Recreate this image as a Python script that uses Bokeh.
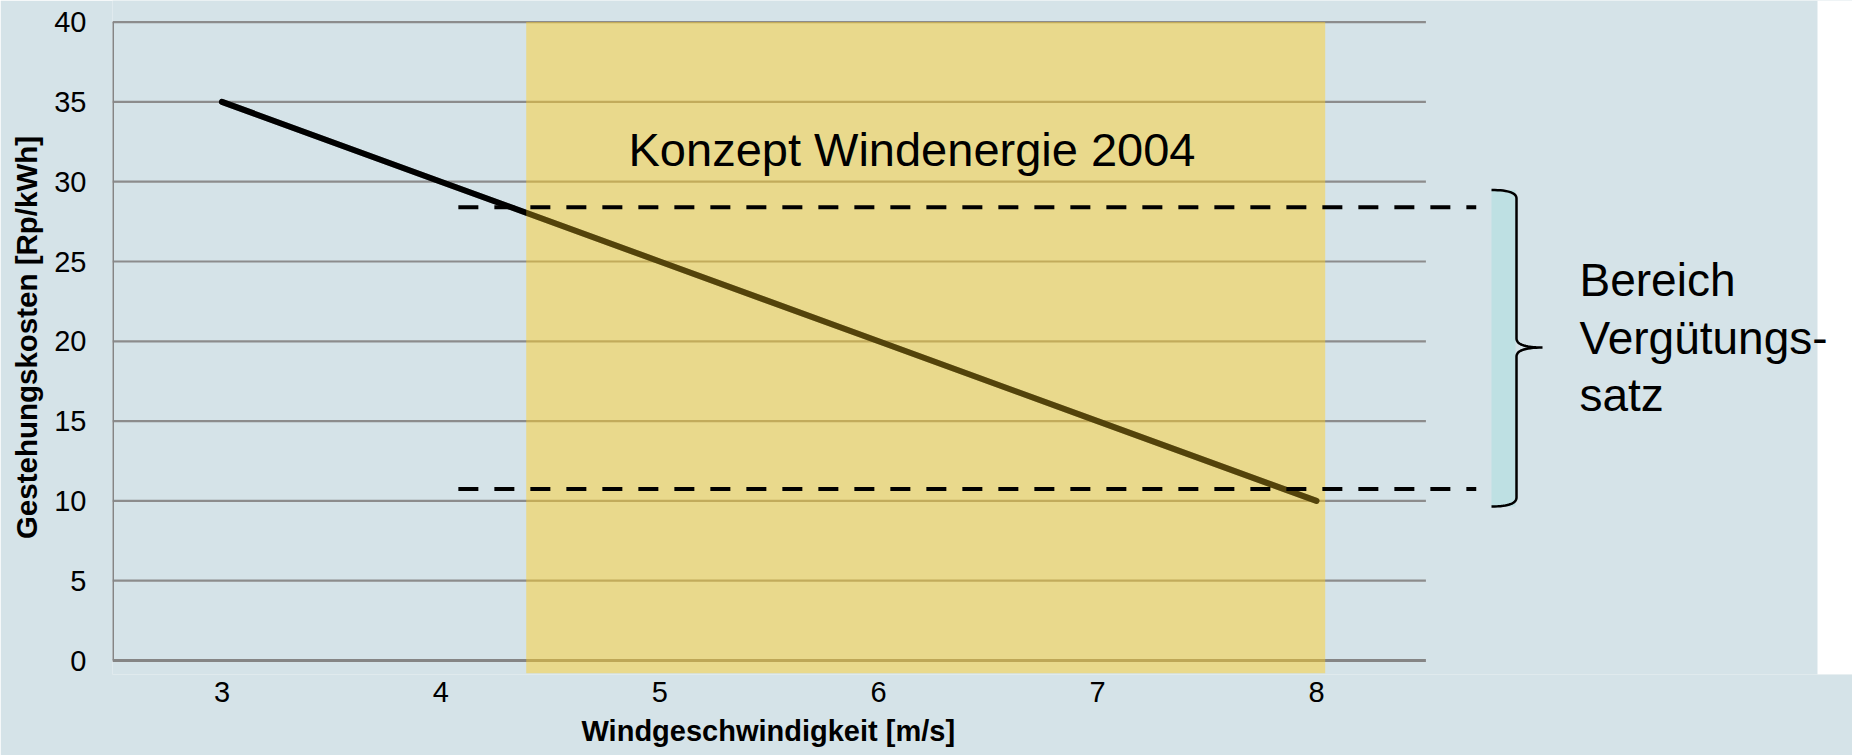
from bokeh.plotting import figure
from bokeh.models import Range1d, FixedTicker, Label, BoxAnnotation, Title
from bokeh.embed import file_html
from bokeh.resources import INLINE
import numpy as np

# ---------------- data ----------------
wind_speed = [3, 4, 5, 6, 7, 8]                 # m/s (categories)
cost = [35, 30, 25, 20, 15, 10]                 # Rp/kWh
y_ticks = [0, 5, 10, 15, 20, 25, 30, 35, 40]
concept_wind = [4.39, 8.04]                     # band "Konzept Windenergie 2004"
concept_cost = [-0.8, 40]
tariff_levels = [28.4, 10.75]                   # Bereich Vergütungssatz
tariff_wind = [4.08, 8.73]

# ---------------- layout constants ----------------
BG = "#D5E3E8"
FONT = "Liberation Sans"
W, H = 1852, 755
LEFT = 112
PX_X = 218.9      # px per category
PX_Y = 15.96      # px per Rp/kWh
FRAME_H = 674
BOTTOM = H - FRAME_H
x_lo = wind_speed[0] - 0.5
x_hi = wind_speed[-1] + 0.5
x_end = x_lo + (W - LEFT) / PX_X
y_end = 40 + 21.6 / PX_Y
y_start = y_end - FRAME_H / PX_Y
LABEL_SHIFT = 16.5   # baseline correction for Label text (px)


def xd(px):  # image pixel -> data x (decorations only)
    return x_lo + (px - LEFT) / PX_X


def yd(py):
    return (660 - py) / PX_Y


p = figure(width=W, height=H, x_range=Range1d(x_lo, x_end), y_range=Range1d(y_start, y_end),
           output_backend="svg", toolbar_location=None, title=None,
           min_border_left=LEFT, min_border_right=0, min_border_top=0, min_border_bottom=BOTTOM,
           background_fill_color=BG, border_fill_color=BG, outline_line_color=None)
p.grid.visible = False

# gridlines and axis lines limited to the category area
grid_y = [t for t in y_ticks if t > 0]
p.segment(x0=[x_lo] * len(grid_y), x1=[x_hi] * len(grid_y), y0=grid_y, y1=grid_y,
          line_color="#8C8C8C", line_width=2.2)
p.segment(x0=[x_lo], x1=[x_hi], y0=[0], y1=[0], line_color="#858585", line_width=3)
p.segment(x0=[x_lo], x1=[x_lo], y0=[0], y1=[y_ticks[-1]], line_color="#858585", line_width=3)

# cost curve
p.line(wind_speed, cost, line_color="black", line_width=6, line_cap="round")

# concept band (semi transparent overlay)
p.quad(left=[concept_wind[0]], right=[concept_wind[1]], bottom=[concept_cost[0]], top=[concept_cost[1]],
       fill_color="#FFCE24", fill_alpha=0.47, line_color=None)
# darken the curve slightly where it shows through the band
p.line(wind_speed, cost, line_color="black", line_width=6, line_cap="round", line_alpha=0.3)

# tariff range dashed lines
p.multi_line(xs=[tariff_wind for _ in tariff_levels], ys=[[lv, lv] for lv in tariff_levels],
             line_color="black", line_width=4, line_dash="20 16")

# brace with light fill
p.quad(left=[xd(1491)], right=[xd(1515)], top=[yd(189.5)], bottom=[yd(506)],
       fill_color="#BEE0E3", line_color=None)


def qbez(p0, c, p1, n=16):
    t = np.linspace(0, 1, n)
    xs = (1 - t) ** 2 * p0[0] + 2 * (1 - t) * t * c[0] + t ** 2 * p1[0]
    ys = (1 - t) ** 2 * p0[1] + 2 * (1 - t) * t * c[1] + t ** 2 * p1[1]
    return list(xs), list(ys)


bx, by = [], []
for seg in [((1491, 189.5), (1516, 189.5), (1516, 198)),
            ((1516, 198), (1516, 268), (1516, 338)),
            ((1516, 338), (1516, 347), (1542, 347)),
            ((1542, 347), (1516, 347), (1516, 356)),
            ((1516, 356), (1516, 426), (1516, 497)),
            ((1516, 497), (1516, 506), (1491, 506))]:
    sx, sy = qbez(*seg)
    bx += [xd(v) for v in sx]
    by += [yd(v) for v in sy]
p.line(bx, by, line_color="black", line_width=2.5)

# white strip at far right of the slide
p.add_layout(BoxAnnotation(left=xd(1817), fill_color="white", fill_alpha=1.0, line_color=None))

# texts
p.add_layout(Label(x=xd(628), y=yd(165.5 - LABEL_SHIFT), text="Konzept Windenergie 2004",
                   text_font=FONT, text_font_size="47px", text_color="black",
                   text_baseline="alphabetic", text_align="left"))
for txt, base in [("Bereich", 296), ("Vergütungs-", 353.5), ("satz", 411)]:
    p.add_layout(Label(x=xd(1579), y=yd(base - LABEL_SHIFT), text=txt, text_font=FONT,
                       text_font_size="46px", text_color="black",
                       text_baseline="alphabetic", text_align="left"))

# axes
for ax in (p.xaxis[0], p.yaxis[0]):
    ax.axis_line_color = None
    ax.major_tick_line_color = None
    ax.minor_tick_line_color = None
    ax.major_tick_out = 0
    ax.major_tick_in = 0
    ax.minor_tick_out = 0
    ax.minor_tick_in = 0
    ax.major_label_text_font = FONT
    ax.major_label_text_font_size = "29px"
    ax.major_label_text_color = "black"
p.xaxis.ticker = FixedTicker(ticks=wind_speed)
p.xaxis.major_label_standoff = 7
p.yaxis.ticker = FixedTicker(ticks=y_ticks)
p.yaxis.major_label_standoff = 26
p.yaxis.axis_label = "Gestehungskosten [Rp/kWh]"
p.yaxis.axis_label_text_font = FONT
p.yaxis.axis_label_text_font_size = "29.5px"
p.yaxis.axis_label_text_font_style = "bold"
p.yaxis.axis_label_text_color = "black"
p.yaxis.axis_label_standoff = 8

p.add_layout(Title(text="Windgeschwindigkeit [m/s]", align="left", offset=469,
                   text_font=FONT, text_font_size="29px", text_font_style="bold",
                   text_color="black", standoff=16), "below")

open("out.html", "w").write(file_html(p, INLINE))
